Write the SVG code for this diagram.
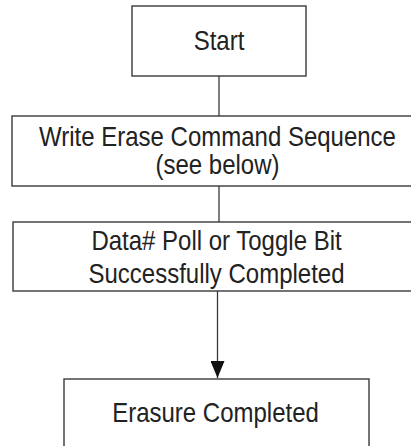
<svg xmlns="http://www.w3.org/2000/svg" width="411" height="446" viewBox="0 0 411 446">
<style>
.box{fill:#fff;stroke:#3a3a3a;stroke-width:1.4}
.t{font-family:"Liberation Sans",Arial,sans-serif;font-size:24px;fill:#222;text-anchor:middle}
.c{stroke:#3a3a3a;stroke-width:1.3;fill:none}
</style>
<defs>
<marker id="arr" markerWidth="17" markerHeight="14" refX="17" refY="7" orient="auto" markerUnits="userSpaceOnUse">
<path d="M0,0 L17,7 L0,14 Z" fill="#111"/>
</marker>
</defs>
<rect width="411" height="446" fill="#fff"/>
<g id="connectors">
<line class="c" x1="219" y1="76" x2="219" y2="116"/>
<line class="c" x1="219" y1="186" x2="219" y2="222"/>
<line class="c" x1="217.5" y1="291" x2="217.5" y2="378" marker-end="url(#arr)"/>
</g>
<g id="start">
<rect class="box" x="132" y="6" width="174" height="70"/>
<text class="t" transform="translate(219,50) scale(1,1.12)">Start</text>
</g>
<g id="write">
<rect class="box" x="12" y="116" width="402" height="70"/>
<text class="t" transform="translate(217.5,146) scale(1,1.12)">Write Erase Command Sequence</text>
<text class="t" transform="translate(217.5,174) scale(1,1.12)">(see below)</text>
</g>
<g id="poll">
<rect class="box" x="13" y="222" width="401" height="69"/>
<text class="t" transform="translate(216.5,249.5) scale(1,1.12)">Data# Poll or Toggle Bit</text>
<text class="t" transform="translate(216.5,283) scale(1,1.12)">Successfully Completed</text>
</g>
<g id="done">
<rect class="box" x="64" y="379" width="305" height="80"/>
<text class="t" transform="translate(215.5,421.5) scale(1,1.12)">Erasure Completed</text>
</g>
</svg>
